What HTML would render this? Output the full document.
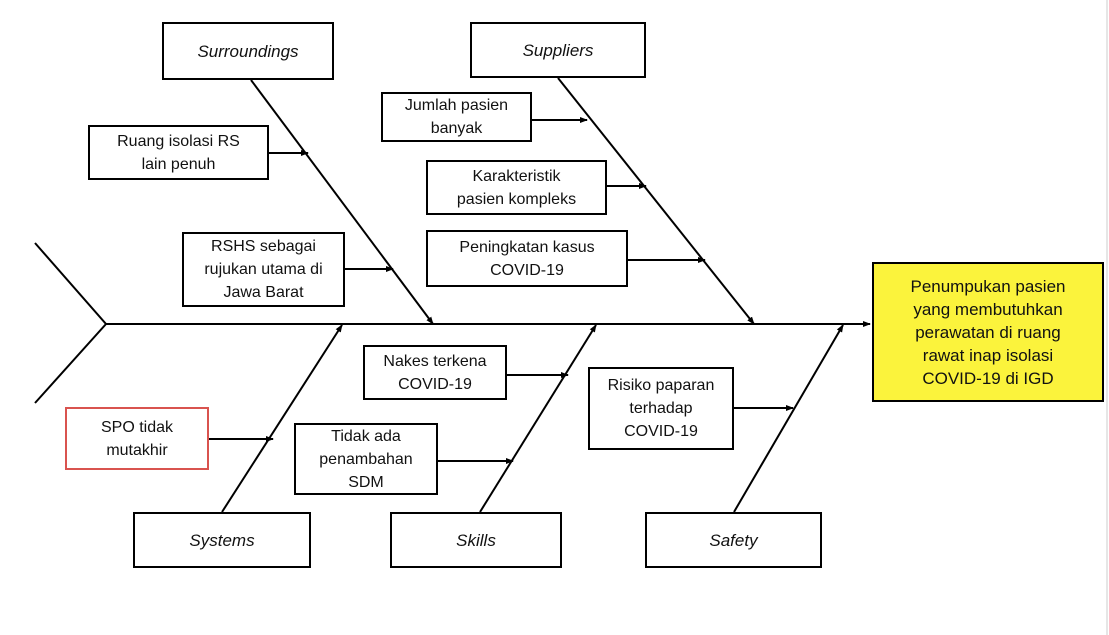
<!DOCTYPE html>
<html><head><meta charset="utf-8"><style>
html,body{margin:0;padding:0;background:#fff}
body{width:1109px;height:635px;position:relative;overflow:hidden;font-family:"Liberation Sans",sans-serif}
.b{position:absolute;box-sizing:border-box;border:2px solid #000;background:#fff;display:flex;align-items:center;justify-content:center;text-align:center;font-size:16px;line-height:23px;color:#111}
.i{font-style:italic;font-size:17px}
svg{position:absolute;left:0;top:0}
</style></head><body>
<svg width="1109" height="635">
<defs><marker id="a" markerWidth="8" markerHeight="8" refX="7" refY="4" orient="auto" markerUnits="userSpaceOnUse"><path d="M0,1 L8,4 L0,7 Z" fill="#000"/></marker></defs>
<g stroke="#000" stroke-width="2" fill="none">
<polyline points="35,243 106,324 35,403"/>
<line x1="106" y1="324" x2="870" y2="324" marker-end="url(#a)"/>
<line x1="251" y1="80" x2="433" y2="324" marker-end="url(#a)"/>
<line x1="558" y1="78" x2="754" y2="324" marker-end="url(#a)"/>
<line x1="222" y1="512" x2="342" y2="325" marker-end="url(#a)"/>
<line x1="480" y1="512" x2="596" y2="325" marker-end="url(#a)"/>
<line x1="734" y1="512" x2="843" y2="325" marker-end="url(#a)"/>
<line x1="269" y1="153" x2="308" y2="153" marker-end="url(#a)"/>
<line x1="345" y1="269" x2="393" y2="269" marker-end="url(#a)"/>
<line x1="532" y1="120" x2="587" y2="120" marker-end="url(#a)"/>
<line x1="607" y1="186" x2="646" y2="186" marker-end="url(#a)"/>
<line x1="628" y1="260" x2="705" y2="260" marker-end="url(#a)"/>
<line x1="507" y1="375" x2="568" y2="375" marker-end="url(#a)"/>
<line x1="438" y1="461" x2="513" y2="461" marker-end="url(#a)"/>
<line x1="209" y1="439" x2="273" y2="439" marker-end="url(#a)"/>
<line x1="734" y1="408" x2="793" y2="408" marker-end="url(#a)"/>
</g>
<line x1="1107" y1="0" x2="1107" y2="635" stroke="#ccc" stroke-width="1"/>
</svg>
<div class="b i" style="left:162px;top:22px;width:172px;height:58px">Surroundings</div>
<div class="b i" style="left:470px;top:22px;width:176px;height:56px">Suppliers</div>
<div class="b" style="left:88px;top:125px;width:181px;height:55px">Ruang isolasi RS<br>lain penuh</div>
<div class="b" style="left:182px;top:232px;width:163px;height:75px">RSHS sebagai<br>rujukan utama di<br>Jawa Barat</div>
<div class="b" style="left:381px;top:92px;width:151px;height:50px">Jumlah pasien<br>banyak</div>
<div class="b" style="left:426px;top:160px;width:181px;height:55px">Karakteristik<br>pasien kompleks</div>
<div class="b" style="left:426px;top:230px;width:202px;height:57px">Peningkatan kasus<br>COVID-19</div>
<div class="b" style="left:872px;top:262px;width:232px;height:140px;background:#fbf33c;font-size:17px;line-height:23px">Penumpukan pasien<br>yang membutuhkan<br>perawatan di ruang<br>rawat inap isolasi<br>COVID-19 di IGD</div>
<div class="b" style="left:363px;top:345px;width:144px;height:55px">Nakes terkena<br>COVID-19</div>
<div class="b" style="left:294px;top:423px;width:144px;height:72px">Tidak ada<br>penambahan<br>SDM</div>
<div class="b" style="left:65px;top:407px;width:144px;height:63px;border-color:#d9534f">SPO tidak<br>mutakhir</div>
<div class="b" style="left:588px;top:367px;width:146px;height:83px">Risiko paparan<br>terhadap<br>COVID-19</div>
<div class="b i" style="left:133px;top:512px;width:178px;height:56px">Systems</div>
<div class="b i" style="left:390px;top:512px;width:172px;height:56px">Skills</div>
<div class="b i" style="left:645px;top:512px;width:177px;height:56px">Safety</div>
</body></html>
